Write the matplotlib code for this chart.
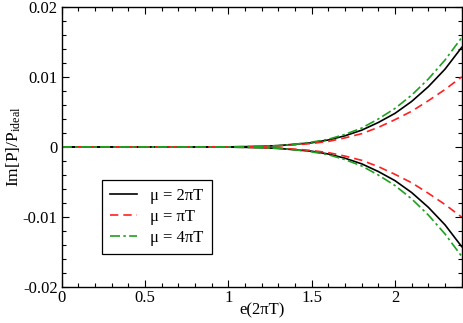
import numpy as np
import matplotlib
matplotlib.use("Agg")
import matplotlib.pyplot as plt
from matplotlib.ticker import MultipleLocator

plt.rcParams["font.family"] = ["Liberation Serif", "DejaVu Serif"]
plt.rcParams["mathtext.fontset"] = "custom"
plt.rcParams["mathtext.rm"] = "Liberation Serif"
plt.rcParams["mathtext.it"] = "Liberation Serif:italic"

# e in units of 2*pi*T
e_vals = [0.0, 0.1, 0.2, 0.3, 0.4, 0.5, 0.6, 0.7, 0.8, 0.9, 1.0, 1.1, 1.2,
          1.3, 1.4, 1.5, 1.6, 1.7, 1.8, 1.9, 2.0, 2.1, 2.2, 2.3, 2.4]

# upper branch of Im[P]/P_ideal; lower branch is its mirror
im_mu2 = [0, 0, 0, 0, 0, 0, 0, 0, 0, 0.00001, 0.00002, 0.00005, 0.0001,
          0.0002, 0.0004, 0.0006, 0.0010, 0.0016, 0.0024, 0.0035, 0.0048,
          0.0065, 0.0086, 0.0111, 0.0142]
im_mu1 = [0, 0, 0, 0, 0, 0, 0, 0, 0, 0.00001, 0.00002, 0.00004, 0.00008,
          0.00016, 0.0003, 0.0005, 0.0008, 0.0013, 0.0019, 0.0028, 0.0039,
          0.0051, 0.0066, 0.0082, 0.0100]
im_mu4 = [0, 0, 0, 0, 0, 0, 0, 0, 0, 0.00001, 0.00002, 0.00005, 0.0001,
          0.0002, 0.0004, 0.0007, 0.0011, 0.0018, 0.0027, 0.0040, 0.0055,
          0.0074, 0.0097, 0.0124, 0.0156]

labels = ["μ = 2πT", "μ = πT", "μ = 4πT"]

fig = plt.figure(figsize=(4.63, 3.23), dpi=100)
ax = fig.add_axes([0.1333, 0.1105, 0.8639, 0.8688])

x = np.array(e_vals)
series = [
    (np.array(im_mu2), dict(color="black", linestyle="-")),
    (np.array(im_mu1), dict(color="#ff2020", linestyle=(0, (5, 3)))),
    (np.array(im_mu4), dict(color="#20a020", linestyle=(0, (6, 2, 1.5, 2)))),
]
handles = []
for (y, style), lab in zip(series, labels):
    h, = ax.plot(x, y, lw=1.2, label=lab, **style)
    ax.plot(x, -y, lw=1.2, **style)
    handles.append(h)

ax.set_xlim(0, 2.4)
ax.set_ylim(-0.02, 0.02)
ax.xaxis.set_minor_locator(MultipleLocator(0.1))
ax.yaxis.set_minor_locator(MultipleLocator(0.002))
ax.set_xticks([0, 0.5, 1, 1.5, 2])
ax.set_xticklabels(["0", "0.5", "1", "1.5", "2"])
ax.set_yticks([-0.02, -0.01, 0, 0.01, 0.02])
ax.set_yticklabels(["-0.02", "-0.01", "0", "0.01", "0.02"])
ax.tick_params(which="both", direction="in", top=True, right=True, labelsize=12)
ax.tick_params(which="major", length=5, width=0.8)
ax.tick_params(which="minor", length=3, width=0.8)
ax.tick_params(axis="x", pad=2)
ax.tick_params(axis="y", pad=3)
for s in ax.spines.values():
    s.set_linewidth(1.0)

ax.set_xlabel("e(2πT)", fontsize=12, labelpad=-3)
ax.set_ylabel(r"Im[P]/P$_{\rm ideal}$", fontsize=12.5, labelpad=0)

leg = ax.legend(handles=handles, loc="lower left", bbox_to_anchor=(0.1, 0.1176),
                fontsize=12, fancybox=False, edgecolor="black",
                handlelength=1.6, handletextpad=0.8, borderpad=0.5,
                labelspacing=0.3, framealpha=1, borderaxespad=0)
leg.get_frame().set_linewidth(0.9)

fig.savefig("out.png", dpi=100)
